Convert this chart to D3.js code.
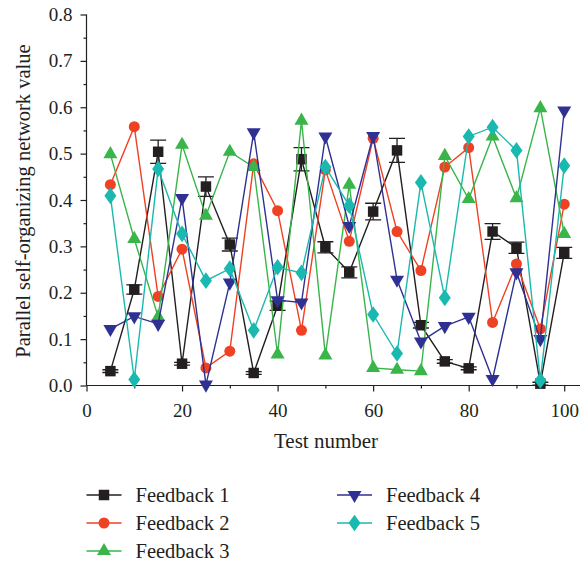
<!DOCTYPE html>
<html><head><meta charset="utf-8">
<script src="https://cdn.jsdelivr.net/npm/d3@7"></script>
<style>body{margin:0;background:#fff}svg{display:block}text{font-family:"Liberation Serif","DejaVu Serif",serif;fill:#231f20}</style>
</head><body>
<script>
const tests = [5,10,15,20,25,30,35,40,45,50,55,60,65,70,75,80,85,90,95,100];
const feedback1 = [0.031,0.207,0.504,0.047,0.429,0.304,0.027,0.172,0.488,0.298,0.244,0.375,0.507,0.130,0.052,0.037,0.332,0.297,0.004,0.286];
const feedback1Err = [0.003,0.010,0.025,0.003,0.021,0.014,0.003,0.010,0.025,0.012,0.012,0.018,0.026,0.006,0.004,0.003,0.017,0.012,0.003,0.012];
const feedback2 = [0.433,0.558,0.192,0.294,0.038,0.074,0.478,0.377,0.119,0.465,0.311,0.533,0.332,0.248,0.471,0.513,0.136,0.262,0.122,0.391];
const feedback3 = [0.499,0.316,0.148,0.519,0.366,0.504,0.471,0.067,0.571,0.065,0.433,0.038,0.034,0.031,0.495,0.402,0.537,0.404,0.598,0.327];
const feedback4 = [0.122,0.149,0.133,0.404,0.002,0.222,0.546,0.184,0.179,0.537,0.344,0.538,0.228,0.095,0.128,0.148,0.014,0.244,0.100,0.593];
const feedback5 = [0.409,0.013,0.467,0.327,0.226,0.252,0.119,0.255,0.243,0.471,0.388,0.153,0.069,0.438,0.189,0.537,0.557,0.507,0.011,0.474];
const seriesNames = ["Feedback 1","Feedback 2","Feedback 3","Feedback 4","Feedback 5"];
const seriesColors = ["#231f20","#ef4123","#39b54a","#2e3192","#1ab9b0"];
const seriesShapes = ["square","circle","triangle","triangleDown","diamond"];
const xTicks = [0,20,40,60,80,100];
const yTicks = [0,0.1,0.2,0.3,0.4,0.5,0.6,0.7,0.8];

const W=581,H=567;
const svg=d3.select("body").append("svg").attr("width",W).attr("height",H);
const x=d3.scaleLinear().domain([0,103.3]).range([86.5,580]);
const y=d3.scaleLinear().domain([0,0.8]).range([385.5,14.5]);

const allValues=[feedback1,feedback2,feedback3,feedback4,feedback5];

function symbolPath(shape){
  if(shape==="square") return d3.symbol(d3.symbolSquare,110)();
  if(shape==="circle") return d3.symbol(d3.symbolCircle,95)();
  if(shape==="triangle") return d3.symbol(d3.symbolTriangle,85)();
  if(shape==="triangleDown") return d3.symbol(d3.symbolTriangle,85)();
  if(shape==="diamond") return d3.symbol(d3.symbolDiamond,80)();
}
function symTransform(shape,px,py){
  let t=`translate(${px},${py})`;
  if(shape==="triangleDown") t+=" rotate(180)";
  if(shape==="diamond") t+=" scale(1.25,1)";
  return t;
}

// axes
const xAxis=d3.axisBottom(x).tickValues(xTicks).tickSize(6).tickPadding(12).tickFormat(d3.format("d"));
const gx=svg.append("g").attr("transform","translate(0,385.5)").call(xAxis);
gx.select(".domain").attr("d",`M${x(0)},0H580`);
gx.selectAll("text").style("font-size","19px");
svg.append("g").attr("transform","translate(0,385.5)")
  .call(d3.axisBottom(x).tickValues([10,30,50,70,90]).tickSize(3).tickFormat(""))
  .call(g=>g.select(".domain").remove());

const yAxis=d3.axisLeft(y).tickValues(yTicks).tickSize(6).tickPadding(8).tickFormat(d3.format(".1f"));
const gy=svg.append("g").attr("transform","translate(86.5,0)").call(yAxis);
gy.select(".domain").attr("d",`M0,${y(0)}V${y(0.8)}`);
gy.selectAll("text").style("font-size","19px");
svg.append("g").attr("transform","translate(86.5,0)")
  .call(d3.axisLeft(y).tickValues([0.05,0.15,0.25,0.35,0.45,0.55,0.65,0.75]).tickSize(3).tickFormat(""))
  .call(g=>g.select(".domain").remove());
svg.selectAll(".tick line, .domain").attr("stroke","#231f20").attr("stroke-width",1.2);

// titles
svg.append("text").attr("x",326).attr("y",448).attr("text-anchor","middle").style("font-size","21px").text("Test number");
svg.append("text").attr("transform","translate(30,201) rotate(-90)").attr("text-anchor","middle").style("font-size","20.5px").text("Parallel self-organizing network value");

// series
const line=d3.line().x((d,i)=>x(tests[i])).y(d=>y(d));
allValues.forEach((vals,k)=>{
  const g=svg.append("g");
  g.append("path").attr("d",line(vals)).attr("fill","none").attr("stroke",seriesColors[k]).attr("stroke-width",1.4);
  if(k===0){
    vals.forEach((v,i)=>{
      const px=x(tests[i]),e=feedback1Err[i];
      g.append("path").attr("d",`M${px},${y(v+e)}V${y(v-e)}M${px-8},${y(v+e)}h16M${px-8},${y(v-e)}h16`)
        .attr("stroke",seriesColors[0]).attr("stroke-width",1.3).attr("fill","none");
    });
  }
  g.selectAll("path.m").data(vals).enter().append("path").attr("class","m")
    .attr("d",symbolPath(seriesShapes[k]))
    .attr("transform",(d,i)=>symTransform(seriesShapes[k],x(tests[i]),y(d)))
    .attr("fill",seriesColors[k]);
});

// legend
const legPos=[[86.5,495],[86.5,523],[86.5,551],[337,495],[337,523]];
seriesNames.forEach((n,k)=>{
  const [lx,ly]=legPos[k];
  const g=svg.append("g");
  g.append("line").attr("x1",lx).attr("x2",lx+35).attr("y1",ly).attr("y2",ly).attr("stroke",seriesColors[k]).attr("stroke-width",1.4);
  g.append("path").attr("d",symbolPath(seriesShapes[k])).attr("transform",symTransform(seriesShapes[k],lx+17.5,ly)).attr("fill",seriesColors[k]);
  g.append("text").attr("x",lx+49).attr("y",ly+6.5).style("font-size","20.5px").text(n);
});
</script>
</body></html>
